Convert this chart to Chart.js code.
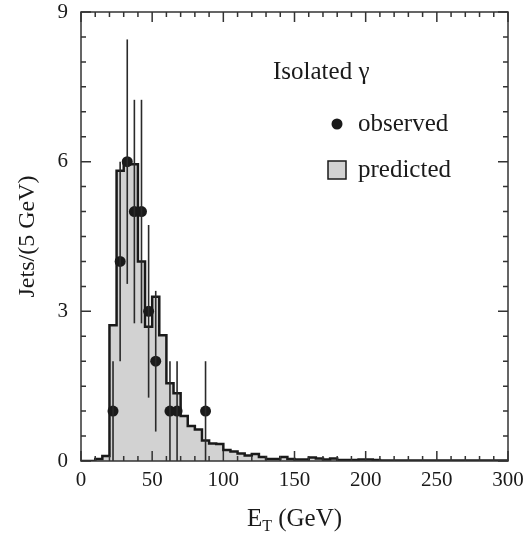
<!DOCTYPE html>
<html>
<head>
<meta charset="utf-8">
<script src="https://cdn.jsdelivr.net/npm/chart.js@4.4.1/dist/chart.umd.min.js"></script>
<style>
  html, body { margin: 0; padding: 0; background: #fff; }
  #wrap { width: 525px; height: 544px; }
</style>
</head>
<body>
<div id="wrap"><canvas id="etChart" width="525" height="544"></canvas></div>
<script>
// Predicted jets per 5 GeV bin, starting at E_T = 0
const BIN_WIDTH = 5;
const predicted = [
  0, 0, 0.04, 0.1, 2.72, 5.82, 5.95, 5.95, 4.0, 2.69,
  3.29, 2.52, 1.56, 1.36, 0.9, 0.7, 0.63, 0.41, 0.35, 0.34,
  0.22, 0.19, 0.15, 0.11, 0.14, 0.08, 0.04, 0.04, 0.08, 0.04,
  0.03, 0.03, 0.07, 0.05, 0.03, 0.05, 0.02, 0.02, 0.02, 0.03,
  0.03, 0.02, 0.01, 0.01, 0.01, 0.01, 0.01, 0.01, 0.01, 0.01,
  0.01, 0.01, 0.01, 0.01, 0.01, 0.01, 0.01, 0.01, 0.01, 0.01
];

// Observed counts at bin centres, with their errors
const obsEt = [22.5, 27.5, 32.5, 37.5, 42.5, 47.5, 52.5, 62.5, 67.5, 87.5];
const observed = [1, 4, 6, 5, 5, 3, 2, 1, 1, 1];
const observedErr = [1.0, 2.0, 2.45, 2.24, 2.24, 1.73, 1.41, 1.0, 1.0, 1.0];

const xTickLabels = [0, 50, 100, 150, 200, 250, 300];
const yTickLabels = [0, 3, 6, 9];

const INK = "#1a1a1a";
const FILL = "#d2d2d2";
const SERIF = "'Liberation Serif', 'DejaVu Serif', serif";

// histogram outline: one point per lower edge plus the closing edge
const histPoints = predicted.map((v, i) => ({ x: i * BIN_WIDTH, y: v }));
histPoints.push({ x: predicted.length * BIN_WIDTH, y: predicted[predicted.length - 1] });

const obsPoints = obsEt.map((x, i) => ({ x, y: observed[i] }));

// error bars, frame and inward ticks
const decorations = {
  id: "decorations",
  afterDatasetsDraw(chart) {
    const { ctx, chartArea: a, scales: { x, y } } = chart;
    ctx.save();

    ctx.strokeStyle = "#2a2a2a";
    ctx.lineWidth = 1.6;
    obsEt.forEach((e, i) => {
      const px = x.getPixelForValue(e);
      ctx.beginPath();
      ctx.moveTo(px, y.getPixelForValue(observed[i] - observedErr[i]));
      ctx.lineTo(px, y.getPixelForValue(observed[i] + observedErr[i]));
      ctx.stroke();
    });

    ctx.strokeStyle = "#333";
    ctx.lineWidth = 1.5;
    ctx.strokeRect(a.left, a.top, a.right - a.left, a.bottom - a.top);

    ctx.beginPath();
    x.ticks.forEach(t => {
      const px = x.getPixelForValue(t.value);
      const len = xTickLabels.includes(t.value) ? 10 : 5;
      ctx.moveTo(px, a.bottom); ctx.lineTo(px, a.bottom - len);
      ctx.moveTo(px, a.top); ctx.lineTo(px, a.top + len);
    });
    y.ticks.forEach(t => {
      const py = y.getPixelForValue(t.value);
      const len = yTickLabels.includes(t.value) ? 10 : 5;
      ctx.moveTo(a.left, py); ctx.lineTo(a.left + len, py);
      ctx.moveTo(a.right, py); ctx.lineTo(a.right - len, py);
    });
    ctx.stroke();
    ctx.restore();
  },
  afterDraw(chart) {
    const { ctx, chartArea: a } = chart;
    ctx.save();
    ctx.fillStyle = INK;

    // y title
    ctx.font = "24px " + SERIF;
    ctx.textAlign = "center";
    ctx.textBaseline = "middle";
    ctx.translate(28, (a.top + a.bottom) / 2);
    ctx.rotate(-Math.PI / 2);
    ctx.fillText("Jets/(5 GeV)", 0, 0);
    ctx.setTransform(1, 0, 0, 1, 0, 0);

    // x title with subscript
    ctx.textBaseline = "alphabetic";
    ctx.textAlign = "left";
    const main = "E", sub = "T", rest = " (GeV)";
    ctx.font = "25px " + SERIF;
    const wE = ctx.measureText(main).width;
    const wR = ctx.measureText(rest).width;
    ctx.font = "16px " + SERIF;
    const wT = ctx.measureText(sub).width;
    let tx = (a.left + a.right) / 2 - (wE + wT + wR) / 2;
    const base = 526;
    ctx.font = "25px " + SERIF;
    ctx.fillText(main, tx, base);
    ctx.font = "16px " + SERIF;
    ctx.fillText(sub, tx + wE, base + 5);
    ctx.font = "25px " + SERIF;
    ctx.fillText(rest, tx + wE + wT, base);

    // legend
    ctx.font = "25px " + SERIF;
    ctx.textBaseline = "middle";
    ctx.fillText("Isolated \u03b3", 273, 72);
    ctx.fillText("observed", 358, 124);
    ctx.fillText("predicted", 358, 170);

    ctx.beginPath();
    ctx.arc(337, 124, 5.5, 0, Math.PI * 2);
    ctx.fill();

    ctx.fillStyle = FILL;
    ctx.fillRect(328, 161, 18, 18);
    ctx.strokeStyle = INK;
    ctx.lineWidth = 1.5;
    ctx.strokeRect(328, 161, 18, 18);
    ctx.restore();
  }
};

new Chart(document.getElementById("etChart"), {
  type: "line",
  data: {
    datasets: [
      {
        label: "predicted",
        data: histPoints,
        order: 2,
        stepped: "before",
        fill: "origin",
        backgroundColor: FILL,
        borderColor: INK,
        borderWidth: 2.5,
        pointRadius: 0
      },
      {
        label: "observed",
        data: obsPoints,
        order: 1,
        showLine: false,
        pointRadius: 5.5,
        pointBackgroundColor: INK,
        pointBorderColor: INK,
        pointBorderWidth: 0
      }
    ]
  },
  options: {
    responsive: false,
    animation: false,
    events: [],
    layout: { padding: { top: 12, right: 17, left: 0, bottom: 0 } },
    plugins: { legend: { display: false }, tooltip: { enabled: false } },
    scales: {
      x: {
        type: "linear",
        min: 0, max: 300,
        grid: { display: false, drawTicks: false, tickLength: 0 },
        border: { display: false },
        afterFit(scale) {
          scale.height = 83;
          scale.paddingLeft = 0;
          scale.paddingRight = 0;
        },
        ticks: {
          stepSize: 10,
          autoSkip: false,
          maxRotation: 0,
          padding: 7,
          color: INK,
          font: { family: SERIF, size: 21 },
          callback: v => (xTickLabels.includes(v) ? String(v) : "")
        }
      },
      y: {
        min: 0, max: 9,
        grid: { display: false, drawTicks: false, tickLength: 0 },
        border: { display: false },
        afterFit(scale) {
          scale.width = 81;
          scale.paddingTop = 0;
          scale.paddingBottom = 0;
        },
        ticks: {
          stepSize: 0.5,
          autoSkip: false,
          padding: 13,
          color: INK,
          font: { family: SERIF, size: 21 },
          callback: v => (yTickLabels.includes(v) ? String(v) : "")
        }
      }
    }
  },
  plugins: [decorations]
});
</script>
</body>
</html>
